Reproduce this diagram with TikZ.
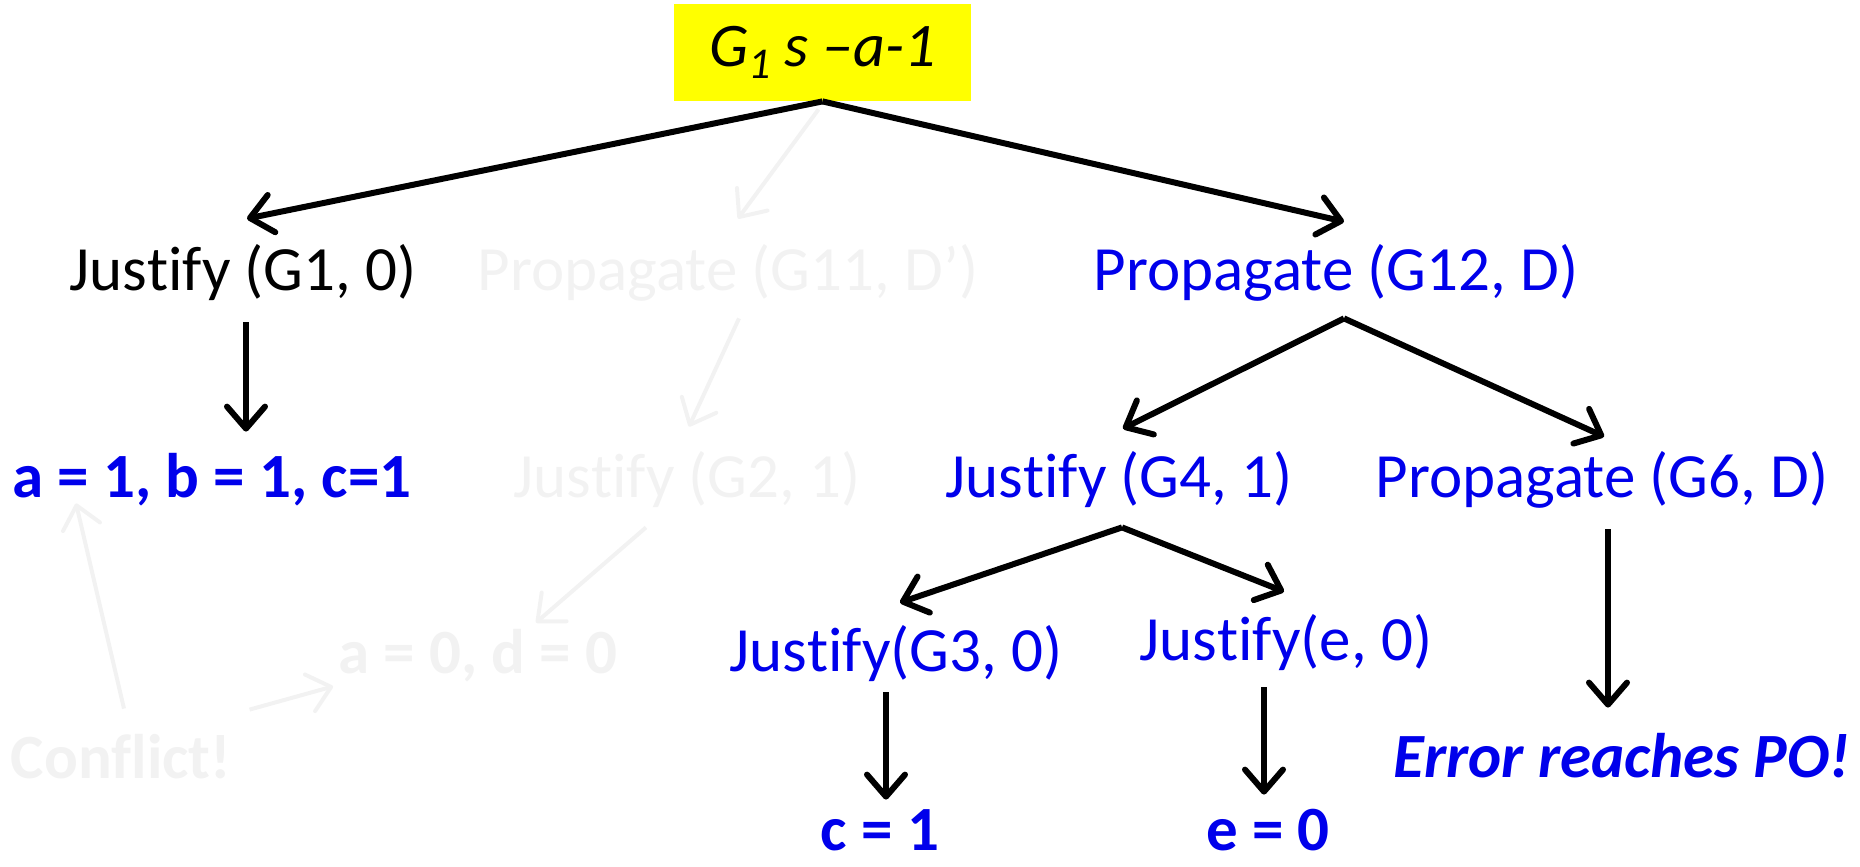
\documentclass[tikz,border=0pt]{standalone}
\usepackage{fontspec}
\setmainfont[Ligatures={NoCommon,NoRare,NoContextual},Contextuals={NoAlternate}]{Carlito}
\usetikzlibrary{arrows.meta,calc}
\definecolor{tblue}{RGB}{0,0,235}
\definecolor{faded}{RGB}{242,242,242}
\definecolor{hl}{RGB}{255,255,0}
\newcommand\Jfy{Jus\kern0pt t\kern0pt ify}
\begin{document}
\begin{tikzpicture}[x=0.5pt,y=-0.5pt,
  lbl/.style={inner sep=0pt, anchor=base, text height=34pt, text depth=14pt,
    font=\fontsize{31.5}{38}\selectfont},
  blk/.style={lbl, text=black},
  bl/.style={lbl, text=tblue},
  bd/.style={lbl, text=tblue, font=\fontsize{31.5}{38}\selectfont\bfseries},
  bdi/.style={lbl, text=tblue, font=\fontsize{31.5}{38}\selectfont\bfseries\itshape},
  fd/.style={lbl, text=faded},
  fdb/.style={lbl, text=faded, font=\fontsize{31.5}{38}\selectfont\bfseries},
  arr/.style={line width=3pt, -{Straight Barb[length=11pt,width=19pt,round]}},
  farr/.style={arr, draw=faded, line width=2pt},
]
\useasboundingbox (0,0) rectangle (1860,867);

% top goal box
\node[fill=hl, inner sep=0pt, minimum width=148.5pt, minimum height=48.5pt] (top) at (822.5,52.5)
  {\fontsize{31}{36}\selectfont\itshape G\raisebox{-6pt}{\fontsize{22}{26}\selectfont 1} s –a-1};

% row 1
\node[blk] (j1)  at (243,290)  {\Jfy{} (G1, 0)};
\node[fd]  (p11) at (728,290)  {Propagate (G11, D’)};
\node[bl]  (p12) at (1336,290) {Propagate (G12, D)};

% row 2
\node[bd] (r1) at (212,497)  {a = 1, b = 1, c=1};
\node[fd] (j2) at (687,497)  {\Jfy{} (G2, 1)};
\node[bl] (j4) at (1119,497) {\Jfy{} (G4, 1)};
\node[bl] (p6) at (1602,497) {Propagate (G6, D)};

% row 3
\node[bl]  (j3) at (896,671)  {\Jfy(G3, 0)};
\node[bl]  (je) at (1286,660) {\Jfy(e, 0)};
\node[fdb] (r0) at (478,673)  {a = 0, d = 0};

% row 4
\node[fdb] (cf)  at (121,778)  {Conf\kern0pt lict!};
\node[bdi] (err) at (1622,777) {Error reaches PO!};

% row 5
\node[bd, text depth=0pt] (c1) at (880,850)  {c = 1};
\node[bd, text depth=0pt] (e0) at (1268,850) {e = 0};

% faded connectors
\draw[farr] ($(top.south)+(-4,8)$) -- ($(p11.north)+(10,-3)$);
\draw[farr] ($(p11.south)+(11,0)$) -- ($(j2.north)+(2,-2)$);
\draw[farr] ($(j2.south)+(-41,2)$) -- ($(r0.north)+(58,18)$);
\draw[farr] ($(cf.north east)+(18,0)$) -- ($(r0.south west)+(-5,-15)$);
\draw[farr] ($(cf.north)+(3,-1)$) -- ($(r1.south west)+(64,-22)$);

% black connectors
\draw[arr] (top.south) -- ($(j1.north)+(4,-3)$);
\draw[arr] (top.south) -- ($(p12.north)+(8,0)$);
\draw[arr] ($(j1.south)+(3,4)$) -- ($(r1.north)+(34,3)$);
\draw[arr] ($(p12.south)+(8,0)$) -- ($(j4.north)+(4,0)$);
\draw[arr] ($(p12.south)+(8,0)$) -- ($(p6.north)+(2,8)$);
\draw[arr] ($(j4.south)+(3,2)$) -- ($(j3.north)+(4,0)$);
\draw[arr] ($(j4.south)+(3,2)$) -- ($(je.north)+(-2,0)$);
\draw[arr] ($(p6.south)+(6,4)$) -- ($(err.north)+(-14,-1)$);
\draw[arr] ($(j3.south)+(-10,-7)$) -- ($(c1.north)+(6,18)$);
\draw[arr] ($(je.south)+(-22,-1)$) -- ($(e0.north)+(-4,13)$);
\end{tikzpicture}
\end{document}
